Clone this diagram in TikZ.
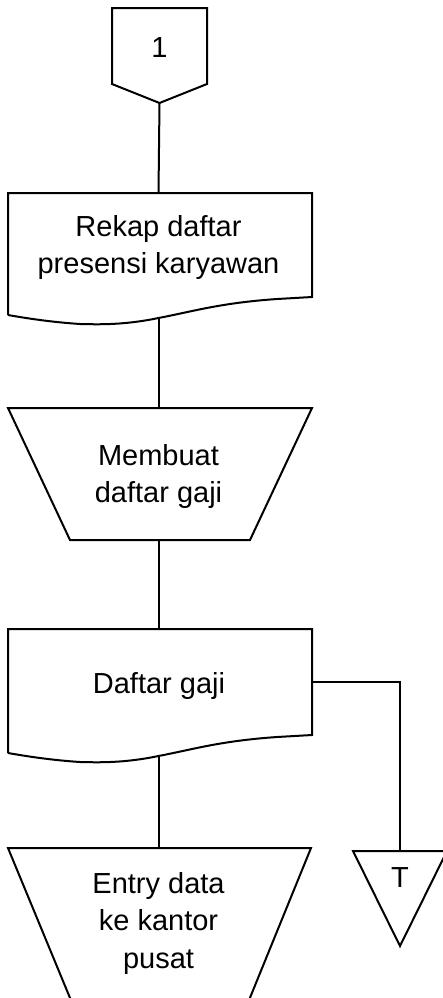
\documentclass[tikz,border=0pt]{standalone}
\usepackage{fontspec}
\setmainfont{Liberation Sans}

\begin{document}
\begin{tikzpicture}[x=0.5pt,y=-0.5pt,line width=1pt,
    lbl/.style={font=\fontsize{14.5}{18.75}\selectfont,align=center,inner sep=0pt}]
            \useasboundingbox (0,0) rectangle (443,998);
            \pgfmathsetmacro{\xm}{158.5};
            % off-page connector
            \draw (112,8) -- (207,8) -- (207,84) -- (159.5,103) -- (112,84) -- cycle;
            \coordinate (conOut) at (159.5,103);
            \node[lbl,anchor=base] (one) at (159.5,57) {1};
            % document: rekap presensi
            \pgfmathsetmacro{\ya}{297};
            \draw (8,\ya+18) -- (8,193) -- (312,193) -- (312,\ya) -- (277,\ya+2)
                .. controls (220,\ya+6) and (195,\ya+14) .. (\xm,\ya+21)
                .. controls (125,\ya+28) and (100,\ya+27.5) .. (80,\ya+27)
                .. controls (50,\ya+25) and (25,\ya+21) .. (8,\ya+18);
            \coordinate (rekapIn) at (\xm,193);
            \coordinate (rekapOut) at (\xm,\ya+21);
            \node[lbl] (rekap) at (\xm,247.3) {Rekap daftar\\presensi karyawan};
            % manual operation: membuat daftar gaji
            \draw (8,408) -- (312,408) -- (250,540) -- (70,540) -- cycle;
            \coordinate (buatIn) at (\xm,408);
            \coordinate (buatOut) at (\xm,540);
            \node[lbl] (buat) at (\xm,476.7) {Membuat\\daftar gaji};
            % document: daftar gaji
            \pgfmathsetmacro{\yb}{735};
            \draw (8,\yb+18) -- (8,629) -- (312,629) -- (312,\yb) -- (277,\yb+2)
                .. controls (220,\yb+6) and (195,\yb+14) .. (\xm,\yb+21)
                .. controls (125,\yb+28) and (100,\yb+27.5) .. (80,\yb+27)
                .. controls (50,\yb+25) and (25,\yb+21) .. (8,\yb+18);
            \coordinate (gajiIn) at (\xm,629);
            \coordinate (gajiOut) at (\xm,\yb+21);
            \coordinate (gajiRight) at (312,682);
            \node[lbl,anchor=base] (gaji) at (159,693.3) {Daftar gaji};
            % manual operation: entry data
            \draw (75,1010) -- (8,848) -- (311,848) -- (245,1010);
            \coordinate (entryIn) at (\xm,848);
            \node[lbl] (entry) at (\xm,923.3) {Entry data\\ke kantor\\pusat};
            % file: T
            \draw (353,851) -- (447,851) -- (400,946) -- cycle;
            \coordinate (fileIn) at (400,851);
            \node[lbl,anchor=base] (file) at (400,887) {T};
            % connectors
            \draw (conOut) -- (rekapIn);
            \draw (rekapOut) -- (buatIn);
            \draw (buatOut) -- (gajiIn);
            \draw (gajiOut) -- (entryIn);
            \draw (gajiRight) -| (fileIn);
        \end{tikzpicture}
\end{document}
